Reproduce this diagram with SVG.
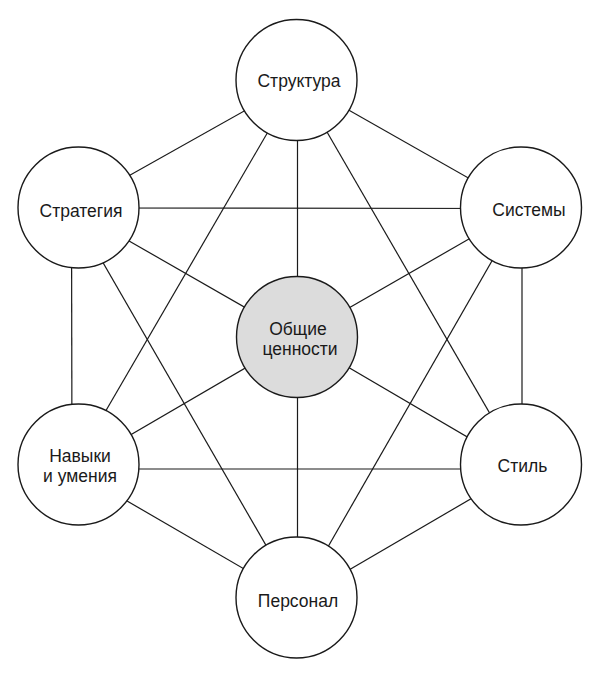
<svg xmlns="http://www.w3.org/2000/svg" width="600" height="675" viewBox="0 0 600 675">
<style>
.edge{stroke:#1a1a1a;stroke-width:1.2;fill:none}
.node{fill:#ffffff;stroke:#1a1a1a;stroke-width:1.4}
.core{fill:#dcdcdc;stroke:#1a1a1a;stroke-width:1.4}
text{font-family:"Liberation Sans",Arial,sans-serif;font-size:17.5px;fill:#1a1a1a;text-anchor:middle}
</style>
<rect width="600" height="675" fill="#ffffff"/>
<g id="connectors">
<line class="edge" x1="297.5" y1="81" x2="71.5" y2="208"/>
<line class="edge" x1="297.5" y1="81" x2="522" y2="208.5"/>
<line class="edge" x1="71.5" y1="208" x2="72" y2="469"/>
<line class="edge" x1="522" y1="208.5" x2="522" y2="469"/>
<line class="edge" x1="72" y1="469" x2="297.5" y2="600"/>
<line class="edge" x1="522" y1="469" x2="297.5" y2="600"/>
<line class="edge" x1="297.5" y1="81" x2="297.5" y2="337.5"/>
<line class="edge" x1="71.5" y1="208" x2="297.5" y2="337.5"/>
<line class="edge" x1="522" y1="208.5" x2="297.5" y2="337.5"/>
<line class="edge" x1="72" y1="469" x2="297.5" y2="337.5"/>
<line class="edge" x1="522" y1="469" x2="297.5" y2="337.5"/>
<line class="edge" x1="297.5" y1="600" x2="297.5" y2="337.5"/>
<line class="edge" x1="297.5" y1="81" x2="72" y2="469"/>
<line class="edge" x1="297.5" y1="81" x2="522" y2="469"/>
<line class="edge" x1="71.5" y1="208" x2="522" y2="208.5"/>
<line class="edge" x1="71.5" y1="208" x2="297.5" y2="600"/>
<line class="edge" x1="522" y1="208.5" x2="297.5" y2="600"/>
<line class="edge" x1="72" y1="469" x2="522" y2="469"/>
</g>
<g id="structure">
<circle class="node" cx="296.5" cy="80" r="60.5"/>
<text x="299" y="87">Структура</text>
</g>
<g id="strategy">
<circle class="node" cx="78.5" cy="207.5" r="60.5"/>
<text x="81" y="217">Стратегия</text>
</g>
<g id="systems">
<circle class="node" cx="521" cy="207.5" r="60.5"/>
<text x="529" y="216">Системы</text>
</g>
<g id="shared-values">
<circle class="core" cx="297" cy="337" r="60.5"/>
<text x="298" y="335">Общие</text>
<text x="300" y="355">ценности</text>
</g>
<g id="skills">
<circle class="node" cx="78.5" cy="464.5" r="60.5"/>
<text x="80" y="461.5">Навыки</text>
<text x="80" y="481.5">и умения</text>
</g>
<g id="style">
<circle class="node" cx="521" cy="464.5" r="60.5"/>
<text x="522.5" y="471.5">Стиль</text>
</g>
<g id="staff">
<circle class="node" cx="296.5" cy="597.5" r="60.5"/>
<text x="298" y="607">Персонал</text>
</g>
</svg>
